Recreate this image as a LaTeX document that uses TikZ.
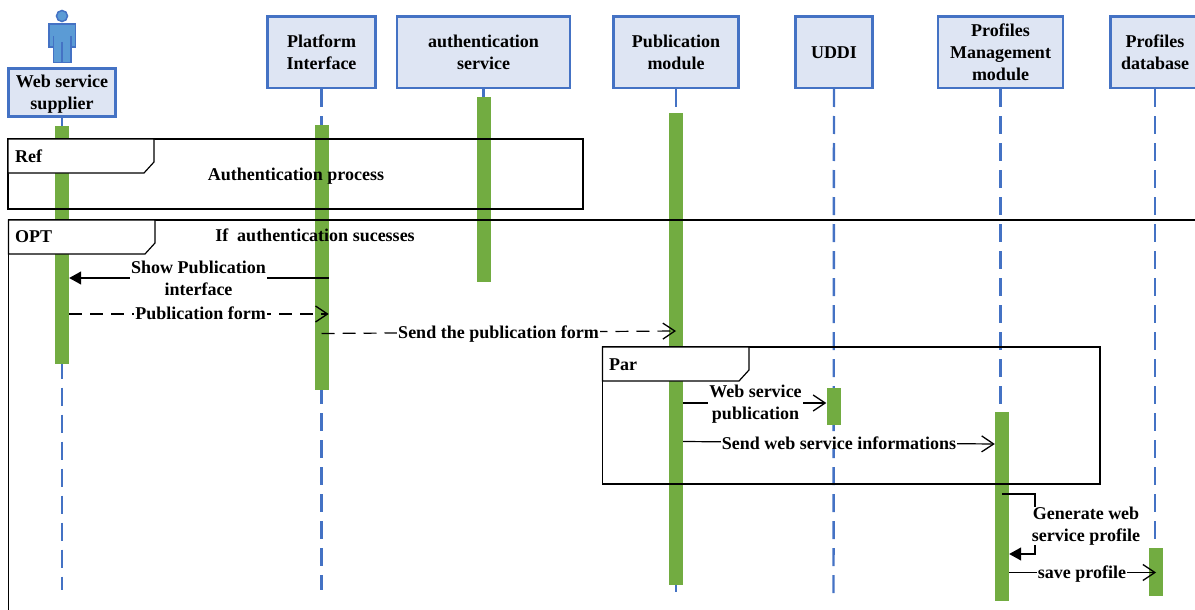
\documentclass[tikz,border=0pt]{standalone}
\usepackage{fontspec}
\setmainfont{Liberation Serif}
\usetikzlibrary{arrows.meta}
\definecolor{lifeblue}{HTML}{4472C4}
\definecolor{boxfill}{HTML}{DEE5F3}
\definecolor{barcol}{HTML}{72AC41}
\definecolor{actorfill}{HTML}{5B9BD5}
\tikzset{
  txt/.style={font=\fontsize{18}{22}\selectfont\bfseries,align=center,inner sep=0pt,text=black},
  head/.style={txt,draw=lifeblue,line width=2.5pt,fill=boxfill,anchor=north west,outer sep=0pt},
  life/.style={draw=lifeblue,line width=2.4pt,dash pattern=on 18pt off 9pt},
  bar/.style={fill=barcol,draw=none,anchor=north,minimum width=14pt,inner sep=0pt},
  frame/.style={draw=black,line width=1.2pt},
  tab/.style={draw=black,line width=1.2pt,fill=white},
  lab/.style={txt,fill=white,inner xsep=1pt,inner ysep=0pt},
  msg/.style={draw=black,line width=1.2pt},
  open/.style={msg,-{Straight Barb[length=12pt,width=16pt,line width=1.3pt]}},
  solidtip/.style={msg,-{Triangle[length=12pt,width=13pt]}},
  dashmsg/.style={open,dash pattern=on 13pt off 8pt},
}
\begin{document}
\begin{tikzpicture}[x=1pt,y=-1pt]
\useasboundingbox (0,0) rectangle (1195,610);
% head boxes
\node[head,minimum width=107pt,minimum height=48pt] (hA) at (8.5,68.5) {\rule{0pt}{16pt}Web service\\supplier};
\node[head,minimum width=108pt,minimum height=71.5pt] (hP) at (267.5,16.5) {Platform\\Interface};
\node[head,minimum width=173pt,minimum height=71.5pt] (hU) at (397,16.5) {authentication\\service};
\node[head,minimum width=125pt,minimum height=71.5pt] (hM) at (613.5,16.5) {Publication\\module};
\node[head,minimum width=77pt,minimum height=71.5pt] (hD) at (795.5,16.5) {UDDI};
\node[head,minimum width=125pt,minimum height=71.5pt] (hG) at (938,16.5) {Profiles\\Management\\module};
\node[head,minimum width=89pt,minimum height=71.5pt] (hB) at (1110.5,16.5) {Profiles\\database};
% lifelines
\coordinate (eA) at (62,590);
\coordinate (eP) at (321.5,590);
\coordinate (eU) at (483.5,110);
\coordinate (eM) at (676,592);
\coordinate (eD) at (833.5,598);
\coordinate (eG) at (1000.5,420);
\coordinate (eB) at (1155,598);
\foreach \n in {A,P,U,M,D,G,B} \draw[life] (h\n.south) ++(0,1) -- (e\n);
% activation bars
\node[bar,minimum height=238pt] (bA) at (62,126) {};
\node[bar,minimum height=265pt] (bP) at (321.5,125) {};
\node[bar,minimum height=185pt] (bU) at (483.5,97) {};
\node[bar,minimum height=472pt] (bM) at (676,113) {};
\node[bar,minimum height=37pt] (bD) at (833.5,388) {};
\node[bar,minimum height=189pt] (bG) at (1002,412) {};
\node[bar,minimum height=48pt] (bB) at (1156,548) {};
% actor
\draw[draw=lifeblue,line width=1.5pt,fill=actorfill]
  (49,24) -- (75.5,24) -- (75.5,47) -- (71,47) -- (71,62.5) -- (53.5,62.5) -- (53.5,47) -- (49,47) -- cycle;
\draw[draw=lifeblue,line width=1.2pt] (53.5,36) -- (53.5,47) (71,36) -- (71,47) (62,42) -- (62,62.5);
\draw[draw=lifeblue,line width=1.5pt,fill=actorfill] (62,16) circle (5.5);
% frames
\draw[frame] (8,139) rectangle (583,209);
\draw[tab] (8,139) -- (154,139) -- (154,162) -- (144,173) -- (8,173) -- cycle;
\node[txt,anchor=west] (tRef) at (15,156) {Ref};
\node[txt] (tAuth) at (296,176.5) {Authentication process};
\draw[frame] (1195,220) -- (8.5,220) -- (8.5,610);
\draw[tab] (8.5,220) -- (155,220) -- (155,243) -- (145,254) -- (8.5,254) -- cycle;
\node[txt,anchor=west] (tOpt) at (15,236.5) {OPT};
\node[txt] (tIf) at (315,235) {If\ \ authentication sucesses};
\draw[frame] (602.5,347) rectangle (1100,484);
\draw[tab] (602.5,347) -- (749,347) -- (749,370) -- (739,381) -- (602.5,381) -- cycle;
\node[txt,anchor=west] (tPar) at (609,365) {Par};
% messages
\draw[solidtip] (bP.east |- 0,278) -- (bA.east |- 0,278);
\node[lab] (m1) at (198.5,278) {Show Publication\\interface};
\draw[dashmsg] (bA.east |- 0,314) -- (bP.east |- 0,314);
\node[lab] (m2) at (200.5,313.5) {Publication form};
\draw[dashmsg] (bP.center |- 0,333.5) -- (bM.center |- 0,331);
\node[lab] (m3) at (498.5,334) {Send the publication form};
\draw[open] (bM.east |- 0,403) -- (bD.west |- 0,403);
\node[lab] (m4) at (755.5,404) {Web service\\publication};
\draw[open] (bM.east |- 0,441.5) -- (bG.west |- 0,444);
\node[lab] (m5) at (839,443) {Send web service informations};
\draw[solidtip] (bG.center |- 0,494) -| (1035,554) -- (bG.east |- 0,554);
\node[lab] (m6) at (1086,526) {Generate web\\service profile};
\draw[open] (bG.east |- 0,572.5) -- (bB.center |- 0,572.5);
\node[lab] (m7) at (1082,574) {save profile};
\end{tikzpicture}
\end{document}
